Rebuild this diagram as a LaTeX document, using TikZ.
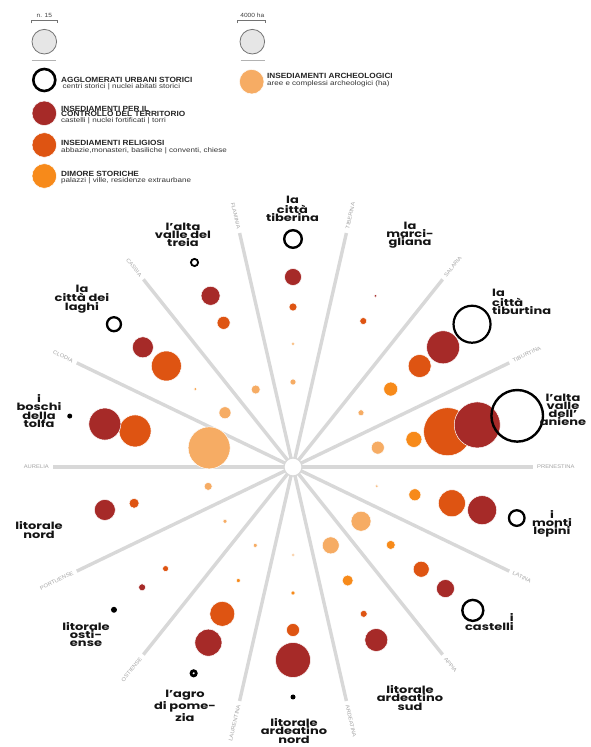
\documentclass[tikz,border=0pt]{standalone}
\usepackage{fontspec}
\usetikzlibrary{calc}
\newfontfamily\legfont{Liberation Sans}[FakeStretch=1.1]
\newfontfamily\legsubfont{Liberation Sans}[FakeStretch=1.2]
\newfontfamily\lblfont{Poppins}[FakeStretch=1.3]
\definecolor{cRed}{RGB}{166,42,40}
\definecolor{cOrRed}{RGB}{222,84,18}
\definecolor{cOrange}{RGB}{247,138,26}
\definecolor{cLight}{RGB}{246,172,100}
\definecolor{cRay}{RGB}{216,216,216}
\definecolor{cRoad}{RGB}{165,165,165}
\definecolor{cKey}{RGB}{230,230,230}
\newcommand\bub[4]{\path[#4] (C) ++(#1:#2) circle[radius=#3];}
\begin{document}
\begin{tikzpicture}[x=1pt,y=1pt,
  ray/.style={draw=cRay, line width=3.4pt},
  hub/.style={circle, fill=white, draw=cRay, line width=1.2pt, minimum size=18pt, inner sep=0pt},
  roadlbl/.style={font=\legfont\fontsize{5.3}{6}\selectfont, text=cRoad, inner sep=0pt},
  sectlbl/.style={font=\lblfont\bfseries\fontsize{10}{8.2}\selectfont, align=center, inner sep=0pt, text=black!92},
  legcap/.style={font=\legfont\bfseries\fontsize{7.5}{8}\selectfont, anchor=base west, inner sep=0pt, text=black!85},
  legsub/.style={font=\legsubfont\fontsize{6.7}{8}\selectfont, anchor=base west, inner sep=0pt, text=black!80},
  keytxt/.style={font=\legfont\fontsize{6}{7}\selectfont, inner sep=0pt, text=black!75},
  fRed/.style={fill=cRed, draw=white, line width=0.5pt},
  fOrRed/.style={fill=cOrRed, draw=white, line width=0.5pt},
  fOrange/.style={fill=cOrange, draw=white, line width=0.5pt},
  fLight/.style={fill=cLight, draw=white, line width=0.5pt},
  ring/.style={draw=black, line width=#1},
  ring/.default=2.4pt,
  bdot/.style={fill=black}
]
\useasboundingbox (0,0) rectangle (590,747);
\fill[white] (0,0) rectangle (590,747);

% ---------------- legend ----------------
\node[keytxt] (kn) at (44.3,732) {n. 15};
\node[keytxt] (kh) at (252.3,732) {4000 ha};
\draw[black!55, line width=0.5pt] (31.7,723.7) -- (31.7,726.3) -- (57.3,726.3) -- (57.3,723.7);
\draw[black!55, line width=0.5pt] (237.3,723.7) -- (237.3,726.3) -- (265,726.3) -- (265,723.7);
\path[fill=cKey, draw=black!55, line width=0.8pt] (44.3,705.3) circle[radius=12.3];
\path[fill=cKey, draw=black!55, line width=0.8pt] (252.3,705.3) circle[radius=12.3];
\draw[black!30, line width=1pt] (31.7,686) -- (56,686);
\draw[black!30, line width=1pt] (240.7,686) -- (265,686);

\path[ring=2.6pt] (44.3,667) circle[radius=11];
\path[fRed] (44.3,633.7) circle[radius=12.3];
\path[fOrRed] (44.3,602) circle[radius=12.3];
\path[fOrange] (44.3,571) circle[radius=12.3];
\path[fLight] (251.7,665.3) circle[radius=12.3];

\node[legcap] (t1) at (61,664.3) {AGGLOMERATI URBANI STORICI};
\node[legsub] (s1) at (62.5,658) {centri storici | nuclei abitati storici};
\node[legcap] (t2a) at (61,635.7) {INSEDIAMENTI PER IL};
\node[legcap] (t2b) at (61,630.3) {CONTROLLO DEL TERRITORIO};
\node[legsub] (s2) at (61,624) {castelli | nuclei fortificati | torri};
\node[legcap] (t3) at (61,601.7) {INSEDIAMENTI RELIGIOSI};
\node[legsub] (s3) at (61,594.3) {abbazie,monasteri, basiliche | conventi, chiese};
\node[legcap] (t4) at (61,570) {DIMORE STORICHE};
\node[legsub] (s4) at (61,564.5) {palazzi | ville, residenze extraurbane};
\node[legcap] (t5) at (267,668.3) {INSEDIAMENTI ARCHEOLOGICI};
\node[legsub] (s5) at (267,661.5) {aree e complessi archeologici (ha)};

% ---------------- rays ----------------
\coordinate (C) at (293,280);
\foreach \ang/\nm in {0/PRENESTINA, 25.714/TIBURTINA, 51.429/SALARIA, 77.143/TIBERINA,
                      -25.714/LATINA, -51.429/APPIA, -77.143/ARDEATINA}{
  \coordinate (e\nm) at ($(C)+(\ang:240)$);
  \draw[ray] (C) -- (e\nm);
  \node[roadlbl, anchor=west, rotate=\ang] (l\nm) at ($(C)+(\ang:244)$) {\nm};
}
\foreach \ang/\nm in {180/AURELIA, 154.286/CLODIA, 128.571/CASSIA, 102.857/FLAMINIA,
                      205.714/PORTUENSE, 231.429/OSTIENSE, 257.143/LAURENTINA}{
  \coordinate (e\nm) at ($(C)+(\ang:240)$);
  \draw[ray] (C) -- (e\nm);
  \node[roadlbl, anchor=east, rotate=\ang-180] (l\nm) at ($(C)+(\ang:244)$) {\nm};
}
\node[hub] (hub) at (C) {};

% ---------------- bubbles: archeological ----------------
\bub{12.857}{87}{6.5}{fLight}
\bub{38.571}{87}{3}{fLight}
\bub{90}{85}{3}{fLight}
\bub{115.714}{86}{4.5}{fLight}
\bub{141.429}{87}{6}{fLight}
\bub{167.143}{86}{21}{fLight}
\bub{192.857}{87}{4}{fLight}
\bub{218.571}{87}{2}{fLight}
\bub{244.286}{87}{2}{fLight}
\bub{270}{88}{1.5}{fLight}
\bub{295.714}{87}{8.5}{fLight}
\bub{321.429}{87}{10}{fLight}
\bub{347.143}{86}{1.5}{fLight}
% dimore storiche
\bub{12.857}{124}{8}{fOrange}
\bub{38.571}{125}{7}{fOrange}
\bub{90}{123}{1.5}{fOrange}
\bub{141.429}{125}{1.5}{fOrange}
\bub{244.286}{126}{2}{fOrange}
\bub{270}{126}{2}{fOrange}
\bub{295.714}{126}{5.5}{fOrange}
\bub{321.429}{125}{4.5}{fOrange}
\bub{347.143}{125}{6}{fOrange}
% religiosi
\bub{12.857}{158.6}{24}{fOrRed}
\bub{38.571}{162}{11.5}{fOrRed}
\bub{64.286}{162}{3.5}{fOrRed}
\bub{90}{160}{4}{fOrRed}
\bub{115.714}{160}{6.5}{fOrRed}
\bub{141.429}{162}{15}{fOrRed}
\bub{167.143}{162}{16}{fOrRed}
\bub{192.857}{163}{5}{fOrRed}
\bub{218.571}{163}{3}{fOrRed}
\bub{244.286}{163}{12.5}{fOrRed}
\bub{270}{163}{6.5}{fOrRed}
\bub{295.714}{163}{3.5}{fOrRed}
\bub{321.429}{164}{8}{fOrRed}
\bub{347.143}{163}{13.5}{fOrRed}
% controllo del territorio
\bub{12.857}{189}{23}{fRed}
\bub{38.571}{192}{16.5}{fRed}
\bub{64.286}{190}{1.5}{fRed}
\bub{90}{190}{8.5}{fRed}
\bub{115.714}{190}{9.5}{fRed}
\bub{141.429}{192}{10.5}{fRed}
\bub{167.143}{193}{16}{fRed}
\bub{192.857}{193}{10.5}{fRed}
\bub{218.571}{193}{3.5}{fRed}
\bub{244.286}{195}{13.5}{fRed}
\bub{270}{193}{17.5}{fRed}
\bub{295.714}{192}{11.5}{fRed}
\bub{321.429}{195}{9}{fRed}
\bub{347.143}{194}{14.5}{fRed}
% agglomerati urbani storici
\bub{12.857}{230}{25.8}{ring=2.4pt}
\bub{38.571}{229}{18.5}{ring=2.2pt}
\bub{90}{228}{8.8}{ring=2.4pt}
\bub{115.714}{227}{3.6}{ring=1.8pt}
\bub{141.429}{229}{7}{ring=2.3pt}
\bub{167.143}{229}{2.5}{bdot}
\bub{218.571}{229}{3}{bdot}
\bub{244.286}{229}{2.6}{ring=2.8pt}
\bub{270}{230}{2.5}{bdot}
\bub{321.429}{230}{10.5}{ring=2.4pt}
\bub{347.143}{229.5}{7.8}{ring=2.3pt}

% ---------------- sector labels ----------------
\node[sectlbl] (nTiberina) at (292.5,538) {la\\città\\tiberina};
\node[sectlbl] (nTreia) at (183,512) {l’alta\\valle del\\treia};
\node[sectlbl] (nLaghi) at (82,448) {la\\città dei\\laghi};
\node[sectlbl] (nTolfa) at (39,336) {i\\boschi\\della\\tolfa};
\node[sectlbl] (nMarci) at (410,512) {la\\marci-\\gliana};
\node[sectlbl, align=left, anchor=west] (nTiburtina) at (492,445) {la\\città\\tiburtina};
\node[sectlbl] (nAniene) at (563,337) {l’alta\\valle\\dell’\\aniene};
\node[sectlbl] (nLepini) at (552,223) {i\\monti\\lepini};
\node[sectlbl, align=right, anchor=east] (nCastelli) at (514,125) {i\\castelli};
\node[sectlbl] (nArdSud) at (410,49) {litorale\\ardeatino\\sud};
\node[sectlbl] (nArdNord) at (294,16) {litorale\\ardeatino\\nord};
\node[sectlbl] (nPomezia) at (185,41) {l’agro\\di pome-\\zia};
\node[sectlbl] (nOstiense) at (86,112.5) {litorale\\osti-\\ense};
\node[sectlbl] (nLitNord) at (39,217) {litorale\\nord};
\end{tikzpicture}
\end{document}
